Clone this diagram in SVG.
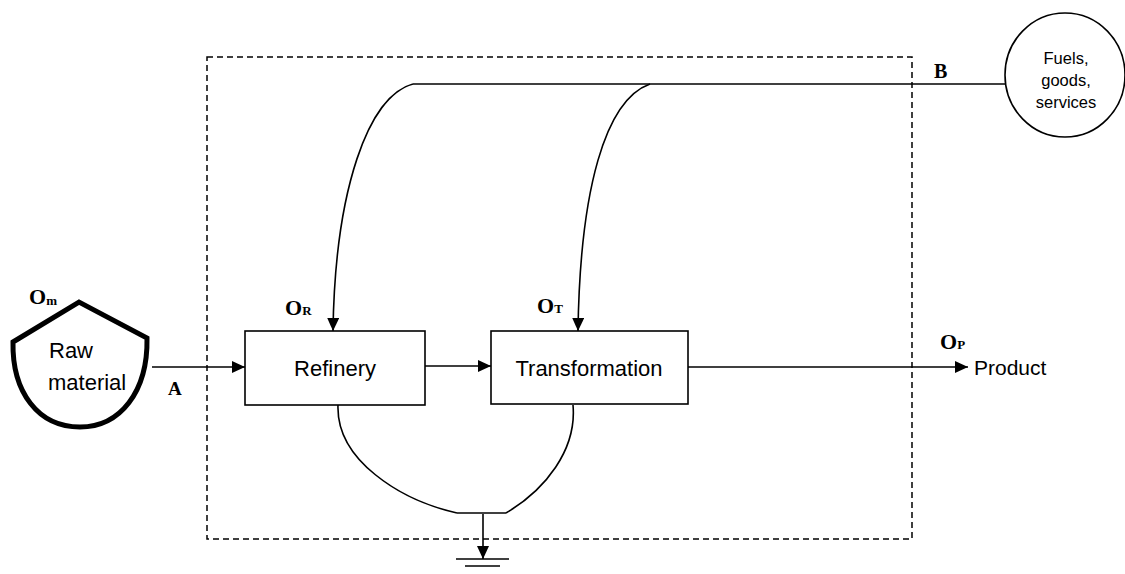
<svg xmlns="http://www.w3.org/2000/svg" width="1125" height="574" viewBox="0 0 1125 574">
<style>
.ln{fill:none;stroke:#000;stroke-width:1.6}
.box{fill:#fff;stroke:#000;stroke-width:1.6}
.sans{font-family:"Liberation Sans",Arial,sans-serif;fill:#000}
.lbl{font-family:"Liberation Serif","Times New Roman",serif;font-weight:bold;fill:#000}
</style>
<defs>
<marker id="ah" markerWidth="14" markerHeight="12" refX="13" refY="6" orient="auto" markerUnits="userSpaceOnUse">
<path d="M0,0 L13,6 L0,12 Z" fill="#000"/>
</marker>
</defs>
<rect x="0" y="0" width="1125" height="574" fill="#fff"/>
<g id="boundary">
<rect x="207" y="57" width="705" height="482" fill="none" stroke="#000" stroke-width="1.5" stroke-dasharray="6,4"/>
</g>
<g id="connectors">
<line class="ln" x1="413" y1="84" x2="1005" y2="84"/>
<path class="ln" d="M413,84 C368,96 335,190 333,331" marker-end="url(#ah)"/>
<path class="ln" d="M650,84 C605,100 580,190 578,331" marker-end="url(#ah)"/>
<line class="ln" x1="152" y1="367" x2="245" y2="367" marker-end="url(#ah)"/>
<line class="ln" x1="425" y1="366" x2="491" y2="366" marker-end="url(#ah)"/>
<line class="ln" x1="688" y1="367" x2="968" y2="367" marker-end="url(#ah)"/>
<path class="ln" d="M338,405 C336,460 400,500 457,513"/>
<path class="ln" d="M573,405 C577,450 545,490 506,513"/>
<line class="ln" x1="457" y1="513" x2="506" y2="513" stroke-width="2"/>
<line class="ln" x1="483" y1="514" x2="483" y2="559" marker-end="url(#ah)"/>
<line class="ln" x1="456" y1="559" x2="509" y2="559" stroke-width="2"/>
<line class="ln" x1="465" y1="566" x2="500" y2="566" stroke-width="2"/>
</g>
<g id="raw-material">
<path d="M13,342 L79,302 L147,338 C148,392 120,427 80,427 C38,427 12,392 13,342 Z" fill="#fff" stroke="#000" stroke-width="5" stroke-linejoin="miter"/>
<text class="sans" x="49" y="358" font-size="22">Raw</text>
<text class="sans" x="48" y="390" font-size="22">material</text>
<text class="lbl" x="29" y="304" font-size="22">O<tspan font-size="13" dy="1">m</tspan></text>
<text class="lbl" x="168" y="395" font-size="19">A</text>
</g>
<g id="refinery">
<rect class="box" x="245" y="331" width="180" height="74"/>
<text class="sans" x="335" y="376" font-size="22" text-anchor="middle">Refinery</text>
<text class="lbl" x="285" y="315" font-size="22">O<tspan font-size="13">R</tspan></text>
</g>
<g id="transformation">
<rect class="box" x="491" y="331" width="197" height="73"/>
<text class="sans" x="589" y="376" font-size="22" text-anchor="middle">Transformation</text>
<text class="lbl" x="537" y="313" font-size="22">O<tspan font-size="13">T</tspan></text>
</g>
<g id="fuels">
<ellipse cx="1065" cy="75" rx="60" ry="62" fill="#fff" stroke="#000" stroke-width="1.6"/>
<text class="sans" x="1066" y="64" font-size="16.5" text-anchor="middle">Fuels,</text>
<text class="sans" x="1066" y="86" font-size="16.5" text-anchor="middle">goods,</text>
<text class="sans" x="1066" y="108" font-size="16.5" text-anchor="middle">services</text>
<text class="lbl" x="934" y="78" font-size="20">B</text>
</g>
<g id="product">
<text class="sans" x="974" y="375" font-size="21">Product</text>
<text class="lbl" x="940" y="349" font-size="22">O<tspan font-size="13">P</tspan></text>
</g>
</svg>
